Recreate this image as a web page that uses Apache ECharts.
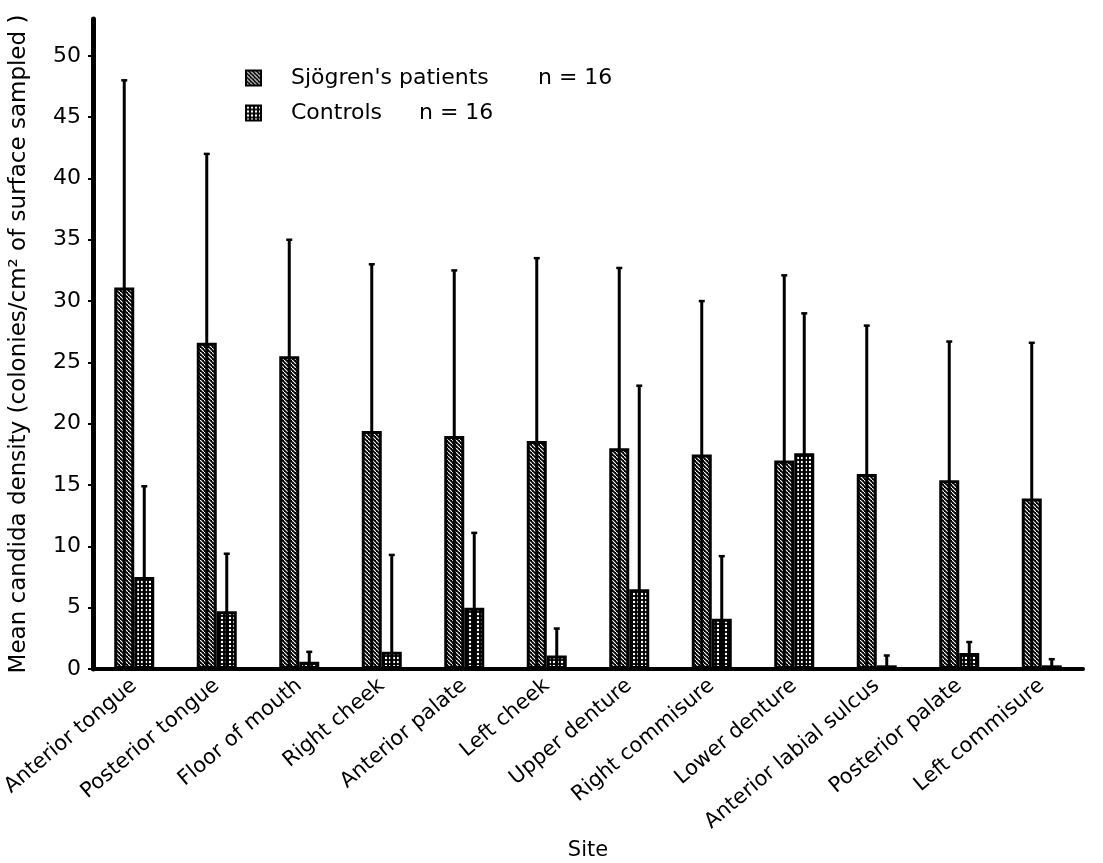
<!DOCTYPE html>
<html>
<head>
<meta charset="utf-8">
<script src="https://cdn.jsdelivr.net/npm/echarts@6/dist/echarts.min.js"></script>
<style>html,body{margin:0;padding:0;background:#fff;}#c{width:1103px;height:863px;}</style>
</head>
<body>
<div id="c"></div>
<script>
var sites = ['Anterior tongue','Posterior tongue','Floor of mouth','Right cheek','Anterior palate','Left cheek','Upper denture','Right commisure','Lower denture','Anterior labial sulcus','Posterior palate','Left commisure'];
var sjogrenMean = [31.1, 26.6, 25.5, 19.4, 19.0, 18.6, 18.0, 17.5, 17.0, 15.9, 15.4, 13.9];
var sjogrenUpper = [48.0, 42.0, 35.0, 33.0, 32.5, 33.5, 32.7, 30.0, 32.1, 28.0, 26.7, 26.6];
var controlMean = [7.5, 4.7, 0.6, 1.4, 5.0, 1.1, 6.5, 4.1, 17.6, 0.3, 1.3, 0.3];
var controlUpper = [14.9, 9.4, 1.4, 9.3, 11.1, 3.3, 23.1, 9.2, 29.0, 1.1, 2.2, 0.8];
var yTicks = [0, 5, 10, 15, 20, 25, 30, 35, 40, 45, 50];

function hatchPattern() {
  var c = document.createElement('canvas'); c.width = 4; c.height = 4;
  var g = c.getContext('2d');
  g.fillStyle = '#000'; g.fillRect(0, 0, 4, 4);
  g.strokeStyle = '#fff'; g.lineWidth = 1.1;
  g.beginPath(); g.moveTo(-1, -1); g.lineTo(5, 5); g.stroke();
  return {image: c, repeat: 'repeat'};
}
function dotPattern() {
  var c = document.createElement('canvas'); c.width = 4; c.height = 4;
  var g = c.getContext('2d');
  g.fillStyle = '#000'; g.fillRect(0, 0, 4, 4);
  g.fillStyle = '#fff';
  g.beginPath(); g.arc(2, 2, 1.2, 0, Math.PI * 2); g.fill();
  return {image: c, repeat: 'repeat'};
}

var BW = 20;
function errSeries(upper, off) {
  return {
    type: 'custom',
    silent: true,
    z: 5,
    data: upper.map(function (v, i) { return [i, v]; }),
    encode: {x: 0, y: 1},
    renderItem: function (params, api) {
      var i = api.value(0);
      var p0 = api.coord([i, 0]);
      var p1 = api.coord([i, api.value(1)]);
      var x = p0[0] + off;
      return {
        type: 'group',
        children: [
          {type: 'line', shape: {x1: x, y1: p0[1], x2: x, y2: p1[1]}, style: {stroke: '#000', lineWidth: 3}},
          {type: 'line', shape: {x1: x - 3, y1: p1[1], x2: x + 3, y2: p1[1]}, style: {stroke: '#000', lineWidth: 2.5}}
        ]
      };
    }
  };
}

var font = 'DejaVu Sans';
var chart = echarts.init(document.getElementById('c'));
chart.setOption({
  animation: false,
  backgroundColor: '#fff',
  textStyle: {fontFamily: font, color: '#000'},
  grid: {left: 93, width: 990, top: 19, bottom: 194, outerBoundsMode: 'none', containLabel: false},
  legend: {
    orient: 'vertical', left: 245, top: 67, padding: 0, itemWidth: 15, itemHeight: 15, itemGap: 13,
    icon: 'rect',
    data: ["Sjögren's patients", 'Controls'],
    formatter: function (name) {
      if (name === 'Controls') return '{c|Controls}{n|n = 16}';
      return '{s|' + name + '}{n|n = 16}';
    },
    textStyle: {
      fontFamily: font, color: '#000', fontSize: 22,
      rich: {
        s: {fontFamily: font, fontSize: 22, width: 247, padding: [0, 0, 0, 25]},
        c: {fontFamily: font, fontSize: 22, width: 128, padding: [0, 0, 0, 25]},
        n: {fontFamily: font, fontSize: 22}
      }
    }
  },
  xAxis: {
    type: 'category', data: sites,
    name: 'Site', nameLocation: 'middle', nameGap: 168,
    nameTextStyle: {fontFamily: font, fontSize: 21, color: '#000'},
    axisLine: {lineStyle: {color: '#000', width: 4}},
    axisTick: {show: false},
    axisLabel: {rotate: 40, fontFamily: font, fontSize: 21, color: '#000', margin: 14, interval: 0}
  },
  yAxis: {
    type: 'value', min: 0, max: 53, interval: 5,
    name: 'Mean candida density (colonies/cm² of surface sampled )',
    nameLocation: 'middle', nameGap: 62, nameRotate: 90,
    nameTextStyle: {fontFamily: font, fontSize: 23, color: '#000'},
    splitLine: {show: false},
    axisLine: {show: true, lineStyle: {color: '#000', width: 5}},
    axisTick: {show: true, length: 5, lineStyle: {color: '#000', width: 2}, customValues: yTicks},
    axisLabel: {fontFamily: font, fontSize: 22, color: '#000', margin: 12, customValues: yTicks}
  },
  series: [
    {name: "Sjögren's patients", type: 'bar', data: sjogrenMean, barWidth: BW, barGap: '0%',
      itemStyle: {color: hatchPattern(), borderColor: '#000', borderWidth: 3}},
    {name: 'Controls', type: 'bar', data: controlMean, barWidth: BW, barGap: '0%',
      itemStyle: {color: dotPattern(), borderColor: '#000', borderWidth: 3}},
    errSeries(sjogrenUpper, -BW / 2),
    errSeries(controlUpper, BW / 2)
  ]
});
</script>
</body>
</html>
